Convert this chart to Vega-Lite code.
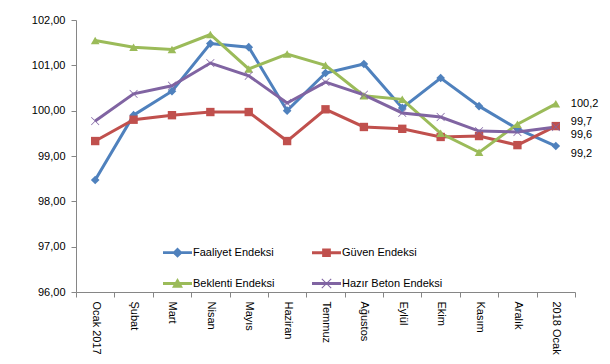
{
  "$schema": "https://vega.github.io/schema/vega-lite/v6.json",
  "width": 499,
  "height": 272,
  "autosize": "none",
  "padding": {"left": 76, "top": 20, "right": 35, "bottom": 72},
  "background": "white",
  "config": {
    "view": {"stroke": null},
    "font": "Liberation Sans",
    "axis": {"labelFont": "Liberation Sans", "labelFontSize": 11, "labelColor": "#000", "domainColor": "#868686", "tickColor": "#868686", "grid": false, "title": null}
  },
  "data": {
    "values": [
      {"ay": "Ocak 2017", "seri": "Faaliyet Endeksi", "v": 98.47},
      {"ay": "Şubat", "seri": "Faaliyet Endeksi", "v": 99.9},
      {"ay": "Mart", "seri": "Faaliyet Endeksi", "v": 100.43},
      {"ay": "Nisan", "seri": "Faaliyet Endeksi", "v": 101.48},
      {"ay": "Mayıs", "seri": "Faaliyet Endeksi", "v": 101.4},
      {"ay": "Haziran", "seri": "Faaliyet Endeksi", "v": 100.0},
      {"ay": "Temmuz", "seri": "Faaliyet Endeksi", "v": 100.83},
      {"ay": "Ağustos", "seri": "Faaliyet Endeksi", "v": 101.03},
      {"ay": "Eylül", "seri": "Faaliyet Endeksi", "v": 100.06},
      {"ay": "Ekim", "seri": "Faaliyet Endeksi", "v": 100.72},
      {"ay": "Kasım", "seri": "Faaliyet Endeksi", "v": 100.1},
      {"ay": "Aralık", "seri": "Faaliyet Endeksi", "v": 99.6},
      {"ay": "2018 Ocak", "seri": "Faaliyet Endeksi", "v": 99.22, "lab": "99,2"},
      {"ay": "Ocak 2017", "seri": "Güven Endeksi", "v": 99.33},
      {"ay": "Şubat", "seri": "Güven Endeksi", "v": 99.8},
      {"ay": "Mart", "seri": "Güven Endeksi", "v": 99.9},
      {"ay": "Nisan", "seri": "Güven Endeksi", "v": 99.97},
      {"ay": "Mayıs", "seri": "Güven Endeksi", "v": 99.97},
      {"ay": "Haziran", "seri": "Güven Endeksi", "v": 99.33},
      {"ay": "Temmuz", "seri": "Güven Endeksi", "v": 100.03},
      {"ay": "Ağustos", "seri": "Güven Endeksi", "v": 99.64},
      {"ay": "Eylül", "seri": "Güven Endeksi", "v": 99.6},
      {"ay": "Ekim", "seri": "Güven Endeksi", "v": 99.42},
      {"ay": "Kasım", "seri": "Güven Endeksi", "v": 99.44},
      {"ay": "Aralık", "seri": "Güven Endeksi", "v": 99.24},
      {"ay": "2018 Ocak", "seri": "Güven Endeksi", "v": 99.66, "lab": "99,7"},
      {"ay": "Ocak 2017", "seri": "Beklenti Endeksi", "v": 101.55},
      {"ay": "Şubat", "seri": "Beklenti Endeksi", "v": 101.4},
      {"ay": "Mart", "seri": "Beklenti Endeksi", "v": 101.35},
      {"ay": "Nisan", "seri": "Beklenti Endeksi", "v": 101.68},
      {"ay": "Mayıs", "seri": "Beklenti Endeksi", "v": 100.92},
      {"ay": "Haziran", "seri": "Beklenti Endeksi", "v": 101.25},
      {"ay": "Temmuz", "seri": "Beklenti Endeksi", "v": 101.0},
      {"ay": "Ağustos", "seri": "Beklenti Endeksi", "v": 100.33},
      {"ay": "Eylül", "seri": "Beklenti Endeksi", "v": 100.25},
      {"ay": "Ekim", "seri": "Beklenti Endeksi", "v": 99.5},
      {"ay": "Kasım", "seri": "Beklenti Endeksi", "v": 99.08},
      {"ay": "Aralık", "seri": "Beklenti Endeksi", "v": 99.7},
      {"ay": "2018 Ocak", "seri": "Beklenti Endeksi", "v": 100.15, "lab": "100,2"},
      {"ay": "Ocak 2017", "seri": "Hazır Beton Endeksi", "v": 99.77},
      {"ay": "Şubat", "seri": "Hazır Beton Endeksi", "v": 100.37},
      {"ay": "Mart", "seri": "Hazır Beton Endeksi", "v": 100.55},
      {"ay": "Nisan", "seri": "Hazır Beton Endeksi", "v": 101.05},
      {"ay": "Mayıs", "seri": "Hazır Beton Endeksi", "v": 100.77},
      {"ay": "Haziran", "seri": "Hazır Beton Endeksi", "v": 100.17},
      {"ay": "Temmuz", "seri": "Hazır Beton Endeksi", "v": 100.63},
      {"ay": "Ağustos", "seri": "Hazır Beton Endeksi", "v": 100.35},
      {"ay": "Eylül", "seri": "Hazır Beton Endeksi", "v": 99.95},
      {"ay": "Ekim", "seri": "Hazır Beton Endeksi", "v": 99.86},
      {"ay": "Kasım", "seri": "Hazır Beton Endeksi", "v": 99.55},
      {"ay": "Aralık", "seri": "Hazır Beton Endeksi", "v": 99.53},
      {"ay": "2018 Ocak", "seri": "Hazır Beton Endeksi", "v": 99.64, "lab": "99,6"}
    ]
  },
  "encoding": {
    "x": {
      "field": "ay", "type": "nominal", "sort": null,
      "scale": {"paddingInner": 0, "paddingOuter": 0},
      "axis": {"labelAngle": 90, "labelAlign": "left", "labelBaseline": "middle", "tickBand": "extent", "tickSize": 5, "labelPadding": 4, "domainColor": "#868686"}
    },
    "y": {
      "field": "v", "type": "quantitative",
      "scale": {"domain": [96, 102], "nice": false, "zero": false},
      "axis": {"values": [96, 97, 98, 99, 100, 101, 102], "labelExpr": "replace(format(datum.value, '.2f'), '.', ',')", "tickSize": 5, "labelPadding": 6}
    },
    "color": {
      "field": "seri", "type": "nominal",
      "scale": {"domain": ["Faaliyet Endeksi", "Beklenti Endeksi", "Güven Endeksi", "Hazır Beton Endeksi"], "range": ["#4F81BD", "#9BBB59", "#C0504D", "#8064A2"]},
      "legend": {
        "orient": "none", "legendX": 87, "legendY": 218, "columns": 2, "title": null,
        "symbolSize": 841, "labelFontSize": 11, "labelFont": "Liberation Sans",
        "rowPadding": 11, "columnPadding": 37, "labelLimit": 200, "labelOffset": 1,
        "encode": {
          "symbols": {
            "update": {
              "shape": {"signal": "datum.value == 'Faaliyet Endeksi' ? 'M-1,-0.1L1,-0.1L1,0.1L-1,0.1Z M0,-0.36L0.36,0L0,0.36L-0.36,0Z' : datum.value == 'Güven Endeksi' ? 'M-1,-0.1L1,-0.1L1,0.1L-1,0.1Z M-0.3,-0.3L0.3,-0.3L0.3,0.3L-0.3,0.3Z' : datum.value == 'Beklenti Endeksi' ? 'M-1,-0.1L1,-0.1L1,0.1L-1,0.1Z M0,-0.38L0.38,0.3L-0.38,0.3Z' : 'M-1,-0.1L1,-0.1L1,0.1L-1,0.1Z M-0.35,-0.3L-0.3,-0.35L0,-0.05L0.3,-0.35L0.35,-0.3L0.05,0L0.35,0.3L0.3,0.35L0,0.05L-0.3,0.35L-0.35,0.3L-0.05,0Z'"},
              "fill": {"signal": "scale('color', datum.value)"},
              "fillOpacity": {"value": 1},
              "opacity": {"value": 1},
              "strokeWidth": {"value": 0}
            }
          }
        }
      }
    }
  },
  "layer": [
    {
      "mark": {"type": "line", "strokeWidth": 3},
      "encoding": {"detail": {"field": "seri"}}
    },
    {
      "transform": [{"filter": "datum.seri == 'Faaliyet Endeksi'"}],
      "mark": {"type": "point", "filled": true, "size": 75, "opacity": 1, "shape": "diamond"}
    },
    {
      "transform": [{"filter": "datum.seri == 'Güven Endeksi'"}],
      "mark": {"type": "point", "filled": true, "size": 70, "opacity": 1, "shape": "square"}
    },
    {
      "transform": [{"filter": "datum.seri == 'Beklenti Endeksi'"}],
      "mark": {"type": "point", "filled": true, "size": 75, "opacity": 1, "shape": "triangle-up"}
    },
    {
      "transform": [{"filter": "datum.seri == 'Hazır Beton Endeksi'"}],
      "mark": {"type": "point", "filled": true, "size": 70, "opacity": 1, "shape": "M-1,-0.88L-0.88,-1L0,-0.12L0.88,-1L1,-0.88L0.12,0L1,0.88L0.88,1L0,0.12L-0.88,1L-1,0.88L-0.12,0Z"}
    },
    {
      "transform": [{"filter": "datum.lab && (datum.seri == 'Faaliyet Endeksi' || datum.seri == 'Hazır Beton Endeksi')"}],
      "mark": {"type": "text", "align": "left", "dx": 15, "dy": 8, "fontSize": 11, "font": "Liberation Sans", "color": "#000"},
      "encoding": {"text": {"field": "lab"}, "color": {"value": "#000"}}
    },
    {
      "transform": [{"filter": "datum.lab && datum.seri == 'Güven Endeksi'"}],
      "mark": {"type": "text", "align": "left", "dx": 15, "dy": -4, "fontSize": 11, "font": "Liberation Sans", "color": "#000"},
      "encoding": {"text": {"field": "lab"}, "color": {"value": "#000"}}
    },
    {
      "transform": [{"filter": "datum.lab && datum.seri == 'Beklenti Endeksi'"}],
      "mark": {"type": "text", "align": "left", "dx": 15, "dy": 0, "fontSize": 11, "font": "Liberation Sans", "color": "#000"},
      "encoding": {"text": {"field": "lab"}, "color": {"value": "#000"}}
    }
  ]
}
